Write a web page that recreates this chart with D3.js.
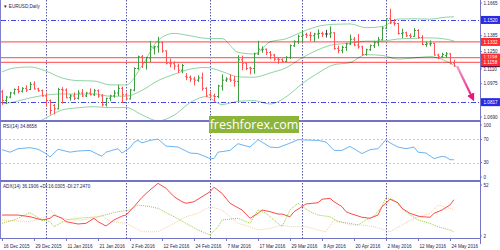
<!DOCTYPE html>
<html>
<head>
<meta charset="utf-8">
<script src="https://cdn.jsdelivr.net/npm/d3@7"></script>
<style>
body { margin: 0; background: #fff; }
svg { display: block; font-family: "Liberation Sans", Arial, sans-serif; }
</style>
</head>
<body>
<div id="chart"></div>
<script>
const W = 500, H = 250;
const axisX = 480;

// daily OHLC, 16 Dec 2015 .. 25 May 2016 (bar index 0..113)
const openP = [1.0905,1.0830,1.0860,1.0895,1.0925,1.0910,1.0935,1.0925,1.0970,1.0930,1.0915,1.0870,1.0830,1.0790,1.0760,1.0925,1.0920,1.0855,1.0870,1.0850,
  1.0895,1.0870,1.0895,1.0880,1.0915,1.0870,1.0795,1.0850,1.0870,1.0895,1.0935,1.0880,1.0845,1.0920,1.1105,1.1205,1.1155,1.1195,1.1280,1.1290,
  1.1325,1.1255,1.1150,1.1145,1.1125,1.1090,1.1035,1.1030,1.1015,1.1005,1.1025,1.0935,1.0880,1.0870,1.0865,1.0955,1.1005,1.1015,1.1005,1.0995,
  1.1180,1.1150,1.1110,1.1105,1.1230,1.1265,1.1270,1.1240,1.1220,1.1185,1.1180,1.1165,1.1200,1.1300,1.1335,1.1380,1.1395,1.1390,1.1385,1.1400,
  1.1405,1.1400,1.1400,1.1410,1.1275,1.1260,1.1285,1.1315,1.1355,1.1305,1.1290,1.1225,1.1265,1.1300,1.1325,1.1350,1.1450,1.1530,1.1495,1.1490,
  1.1405,1.1410,1.1385,1.1380,1.1430,1.1370,1.1310,1.1315,1.1320,1.1220,1.1205,1.1215,1.1230,1.1150];
const highP = [1.0922,1.0870,1.0905,1.0935,1.0955,1.0945,1.0960,1.0990,1.0995,1.0940,1.0925,1.0900,1.0840,1.0800,1.0940,1.0945,1.0935,1.0885,1.0900,1.0920,
  1.0930,1.0905,1.0935,1.0930,1.0925,1.0885,1.0855,1.0880,1.0920,1.0965,1.0950,1.0900,1.0930,1.1115,1.1215,1.1220,1.1205,1.1340,1.1300,1.1376,
  1.1335,1.1260,1.1190,1.1165,1.1145,1.1145,1.1065,1.1045,1.1035,1.1045,1.1070,1.0945,1.0905,1.0890,1.0965,1.1055,1.1030,1.1055,1.1040,1.1218,
  1.1215,1.1160,1.1120,1.1240,1.1342,1.1295,1.1275,1.1255,1.1230,1.1200,1.1190,1.1210,1.1310,1.1345,1.1395,1.1435,1.1410,1.1420,1.1410,1.1440,
  1.1420,1.1435,1.1465,1.1415,1.1300,1.1300,1.1325,1.1395,1.1375,1.1400,1.1300,1.1275,1.1310,1.1340,1.1375,1.1465,1.1535,1.1616,1.1530,1.1495,
  1.1445,1.1420,1.1405,1.1450,1.1440,1.1390,1.1335,1.1345,1.1325,1.1230,1.1240,1.1245,1.1235,1.1180];
const lowP = [1.0795,1.0800,1.0850,1.0880,1.0890,1.0900,1.0905,1.0920,1.0925,1.0905,1.0865,1.0780,1.0711,1.0712,1.0755,1.0805,1.0850,1.0830,1.0835,1.0840,
  1.0860,1.0860,1.0875,1.0870,1.0855,1.0780,1.0780,1.0825,1.0855,1.0870,1.0810,1.0835,1.0840,1.0910,1.1095,1.1110,1.1095,1.1160,1.1225,1.1240,
  1.1240,1.1140,1.1115,1.1095,1.1065,1.1065,1.1005,1.0990,1.0960,1.0990,1.0915,1.0860,1.0850,1.0822,1.0850,1.0915,1.0990,1.0990,1.0950,1.0822,
  1.1090,1.1090,1.1055,1.1060,1.1220,1.1240,1.1220,1.1185,1.1170,1.1145,1.1160,1.1160,1.1185,1.1290,1.1315,1.1330,1.1365,1.1340,1.1335,1.1360,
  1.1375,1.1370,1.1365,1.1265,1.1235,1.1235,1.1255,1.1305,1.1295,1.1275,1.1215,1.1215,1.1255,1.1280,1.1295,1.1345,1.1440,1.1485,1.1470,1.1395,
  1.1365,1.1375,1.1365,1.1375,1.1360,1.1305,1.1290,1.1295,1.1215,1.1185,1.1195,1.1200,1.1140,1.1120];
const closeP = [1.0830,1.0860,1.0895,1.0925,1.0910,1.0935,1.0920,1.0970,1.0930,1.0915,1.0870,1.0830,1.0745,1.0760,1.0925,1.0920,1.0855,1.0870,1.0850,1.0895,
  1.0870,1.0895,1.0880,1.0915,1.0870,1.0795,1.0850,1.0870,1.0895,1.0935,1.0880,1.0845,1.0920,1.1105,1.1205,1.1155,1.1195,1.1290,1.1290,1.1325,
  1.1255,1.1150,1.1145,1.1125,1.1090,1.1130,1.1030,1.1015,1.1005,1.1025,1.0935,1.0870,1.0870,1.0865,1.0955,1.1005,1.1015,1.1005,1.0995,1.1180,
  1.1150,1.1105,1.1105,1.1230,1.1270,1.1270,1.1240,1.1220,1.1185,1.1180,1.1165,1.1200,1.1300,1.1335,1.1380,1.1390,1.1390,1.1385,1.1400,1.1405,
  1.1400,1.1400,1.1410,1.1275,1.1260,1.1285,1.1315,1.1355,1.1305,1.1290,1.1225,1.1265,1.1300,1.1325,1.1350,1.1450,1.1530,1.1495,1.1490,1.1405,
  1.1410,1.1385,1.1380,1.1430,1.1370,1.1310,1.1315,1.1320,1.1220,1.1205,1.1225,1.1230,1.1150,1.1125];

// Bollinger bands, read at selected bars
const bbIdx   = [0,3,7,11,15,19,23,27,31,35,39,43,47,51,55,59,63,67,71,75,79,83,87,91,95,99,103,107,111,113];
const bbUpper = [1.1075,1.1109,1.1118,1.1083,1.1024,1.1001,1.0998,1.0965,1.0964,1.1128,1.1345,1.1405,1.1385,1.1363,1.1361,1.1243,1.1229,1.1332,1.1359,1.1418,1.1465,1.1483,1.1486,1.1454,1.1463,1.1528,1.1530,1.1527,1.1544,1.1547];
const bbMid   = [1.0801,1.0819,1.0853,1.0878,1.0887,1.0885,1.0888,1.0868,1.0868,1.0918,1.1001,1.1055,1.1099,1.1114,1.1079,1.1034,1.1030,1.1066,1.1111,1.1196,1.1265,1.1310,1.1321,1.1339,1.1340,1.1357,1.1363,1.1367,1.1356,1.1339];
const bbLower = [1.0528,1.0554,1.0613,1.0682,1.0750,1.0769,1.0778,1.0770,1.0772,1.0708,1.0657,1.0705,1.0812,1.0864,1.0797,1.0824,1.0830,1.0801,1.0862,1.0974,1.1066,1.1137,1.1155,1.1223,1.1217,1.1185,1.1195,1.1207,1.1168,1.1131];

// RSI(14)
const rsiIdx = [0,2,4,7,9,11,12,14,17,19,22,24,25,26,29,30,32,33,34,35,37,39,41,44,47,49,52,53,54,57,59,62,64,67,69,72,74,79,81,83,85,87,90,92,94,96,97,99,101,103,104,106,108,110,111,112,113];
const rsiVal = [52.3,48,54,55.7,53,45.5,39.6,53,48,50,51,44,41,48,54,46.5,55.7,65,68.3,64,68.3,70.5,58.5,56.8,46.5,45.5,36.9,36.9,48,51,62.6,56.8,69.5,56.8,55.7,63.6,69.5,68.3,65.5,51,51,58,45.5,52.3,54,69.5,64,56.8,54,56.8,48,46.5,36.9,40.8,39.6,35,34.9];
const rsiLevels = [70, 30];
const rsiTicks = [100, 70, 30, 0];

// ADX(14), +DI, -DI
const adxIdx = [0,4,7,10,12,13,15,16,19,21,23,24,26,28,30,31,33,35,37,39,41,43,45,46,48,50,52,53,55,57,60,62,64,65,67,69,70,72,73,75,76,79,80,82,83,85,86,87,90,92,94,95,97,99,100,102,104,105,107,108,110,112,113];
const adxVal = [22.5,22.5,21,18.1,19.6,22.5,19.6,16.6,14.5,15.1,19.6,16.6,12.7,18.1,21.6,22.5,30,38.3,44.9,50.8,46.4,38.9,34.4,33,34.4,38.9,43.3,47.3,41.9,33,27,19.6,24,27,25.5,23.4,23.4,21,25.5,30,32.4,33.5,36.6,37.4,34.4,30,25.5,24,20.5,19.6,22.5,30,36.6,33.5,28.5,24,21.6,21,20.5,24,27,31.5,36.2];
const pdiIdx = [0,3,7,10,12,13,16,19,24,29,32,34,37,39,43,46,49,52,54,55,59,62,64,66,68,70,72,74,77,79,82,84,87,89,91,93,95,96,98,100,102,104,107,109,112,113];
const pdiVal = [15.1,18.1,24.6,18.1,16.6,12.1,18.1,19.6,21,25.5,27,31.5,30,28.5,21,15.1,9.1,4.7,12.1,18.1,19.6,15.1,27,24,18.1,12.1,27,33,25.5,22.5,21,16.6,15.1,13.6,18.1,21.6,30,38.3,35.9,28.5,22.5,18.1,15.1,12.1,9.1,7.6];
const mdiIdx = [0,7,11,12,14,17,20,23,25,27,31,35,39,43,46,49,52,55,57,59,62,64,67,70,72,76,79,81,83,87,90,93,97,100,103,107,109,112,113];
const mdiVal = [18.1,16.6,21,27,21,18.1,18.1,19.6,22,17,15.1,7.6,7.6,15.1,21,24,30,27,21,15.1,12.1,9.1,10.6,13.6,12.1,12.1,9.1,7.6,18.1,13.6,13.6,12.1,7.6,13.6,19.6,24,31.5,28.5,27.2];

// price axis, levels and tags
const priceTicks = [1.1665, 1.1385, 1.1250, 1.1110, 1.0975, 1.0690];
const blueLevels = [1.1520, 1.0817];
const redLevels = [1.1332, 1.1198, 1.1158];
const lastPrice = 1.1125;

// dates
const monthStartIdx = [11, 31, 52, 75, 96];
const dateIdx = [0,8,16,24,32,40,48,56,64,72,80,88,96,104,112];
const dateLabels = ["16 Dec 2015","29 Dec 2015","11 Jan 2016","21 Jan 2016","2 Feb 2016","12 Feb 2016","24 Feb 2016",
  "7 Mar 2016","17 Mar 2016","29 Mar 2016","8 Apr 2016","20 Apr 2016","2 May 2016","12 May 2016","24 May 2016"];

// scales
const x = d3.scaleLinear().domain([0, 113]).range([2, 454]);
const y = d3.scaleLinear().domain([1.0690, 1.1665]).range([117, 3]);
const yRsi = d3.scaleLinear().domain([0, 100]).range([180, 122]);
const yAdx = d3.scaleLinear().domain([2, 52]).range([238, 182]);

const svg = d3.select("#chart").append("svg")
  .attr("width", W).attr("height", H);

const defs = svg.append("defs");
[["clipMain", 0, 120], ["clipRsi", 122, 180], ["clipAdx", 182, 238]].forEach(([id, t, b]) => {
  defs.append("clipPath").attr("id", id)
    .append("rect").attr("x", 1).attr("y", t).attr("width", axisX - 1).attr("height", b - t);
});
const grad = defs.append("linearGradient").attr("id", "arrowGrad")
  .attr("gradientUnits", "userSpaceOnUse")
  .attr("x1", 457).attr("y1", 66).attr("x2", 473).attr("y2", 99);
grad.append("stop").attr("offset", "0%").attr("stop-color", "#f39ac6");
grad.append("stop").attr("offset", "100%").attr("stop-color", "#e8177f");
defs.append("marker").attr("id", "arrowHead")
  .attr("viewBox", "0 0 10 10").attr("refX", 4).attr("refY", 5)
  .attr("markerWidth", 3.6).attr("markerHeight", 3.6).attr("orient", "auto")
  .append("path").attr("d", "M0,0 L10,5 L0,10 z").attr("fill", "#e8177f");

const navy = "#1e1e55";
const fs = 4.6;

// month separators (all panels)
svg.append("g").selectAll("line").data(monthStartIdx).join("line")
  .attr("x1", d => Math.round(x(d)) + 0.5).attr("x2", d => Math.round(x(d)) + 0.5)
  .attr("y1", 0).attr("y2", 238)
  .attr("stroke", "#5a5aaa").attr("stroke-dasharray", "1.5,1.5");

// ---------- main panel ----------
const main = svg.append("g").attr("clip-path", "url(#clipMain)");

main.selectAll(".blue").data(blueLevels).join("line")
  .attr("x1", 1).attr("x2", axisX)
  .attr("y1", d => Math.round(y(d)) + 0.5).attr("y2", d => Math.round(y(d)) + 0.5)
  .attr("stroke", "#4848e8").attr("stroke-dasharray", "5,2,1,2");

main.selectAll(".red").data(redLevels).join("line")
  .attr("x1", 1).attr("x2", axisX)
  .attr("y1", d => y(d)).attr("y2", d => y(d))
  .attr("stroke", "#ff6a6a").attr("stroke-width", 1.2);

const bandLine = arr => d3.line()
  .x((d, k) => x(bbIdx[k])).y(d => y(d))
  .curve(d3.curveMonotoneX)(arr);
[bbUpper, bbMid, bbLower].forEach(arr => {
  main.append("path").attr("d", bandLine(arr))
    .attr("fill", "none").attr("stroke", "#8fd4a4").attr("stroke-width", 1)
    .style("mix-blend-mode", "multiply");
});

main.append("g").selectAll("path").data(d3.range(openP.length)).join("path")
  .attr("d", i => {
    const cx = Math.round(x(i)) + 0.5;
    return `M${cx},${y(highP[i])}V${y(lowP[i])}` +
      `M${cx - 1.5},${y(openP[i])}H${cx}` +
      `M${cx},${y(closeP[i])}H${cx + 1.5}`;
  })
  .attr("fill", "none")
  .attr("stroke", i => closeP[i] > openP[i] ? "#3e9e3e" : closeP[i] < openP[i] ? "#ff5252" : "#404040");

// pink forecast arrow
svg.append("line")
  .attr("x1", 457).attr("y1", 66).attr("x2", 472).attr("y2", 97)
  .attr("stroke", "url(#arrowGrad)").attr("stroke-width", 2.2)
  .attr("marker-end", "url(#arrowHead)");

svg.append("text").attr("x", 3).attr("y", 7.5)
  .attr("font-size", fs).attr("fill", navy).text("\u25BC EURUSD,Daily");

// ---------- RSI panel ----------
const rsiG = svg.append("g").attr("clip-path", "url(#clipRsi)");
rsiG.selectAll("line").data(rsiLevels).join("line")
  .attr("x1", 1).attr("x2", axisX)
  .attr("y1", d => Math.round(yRsi(d)) + 0.5).attr("y2", d => Math.round(yRsi(d)) + 0.5)
  .attr("stroke", "#c8c8c8").attr("stroke-dasharray", "2,2");
rsiG.append("path")
  .attr("d", d3.line().x((d, k) => x(rsiIdx[k])).y(d => yRsi(d))(rsiVal))
  .attr("fill", "none").attr("stroke", "#6cb4f2").attr("stroke-width", 1);
svg.append("text").attr("x", 3).attr("y", 127.5)
  .attr("font-size", fs).attr("fill", navy).text("RSI(14) 34.8658");

// ---------- ADX panel ----------
const adxG = svg.append("g").attr("clip-path", "url(#clipAdx)");
const idxLine = idx => d3.line().x((d, k) => x(idx[k])).y(d => yAdx(d));
adxG.append("path").attr("d", idxLine(mdiIdx)(mdiVal))
  .attr("fill", "none").attr("stroke", "#f2cfa6").attr("stroke-dasharray", "1,1");
adxG.append("path").attr("d", idxLine(pdiIdx)(pdiVal))
  .attr("fill", "none").attr("stroke", "#9acd32").attr("stroke-dasharray", "1,1");
adxG.append("path").attr("d", idxLine(adxIdx)(adxVal))
  .attr("fill", "none").attr("stroke", "#ff4a4a").attr("stroke-width", 1);
svg.append("text").attr("x", 3).attr("y", 187.5)
  .attr("font-size", fs).attr("fill", navy)
  .text("ADX(14) 36.1906 +DI:16.0305 -DI:27.2470");

// ---------- frame ----------
svg.append("line").attr("x1", 0.5).attr("x2", 0.5).attr("y1", 0).attr("y2", 238)
  .attr("stroke", "#8080cc");
[121, 181].forEach(sy => {
  svg.append("line").attr("x1", 0).attr("x2", axisX + 1).attr("y1", sy).attr("y2", sy)
    .attr("stroke", "#7474c6").attr("stroke-width", 2);
});
svg.append("line").attr("x1", axisX + 0.5).attr("x2", axisX + 0.5).attr("y1", 0).attr("y2", 244)
  .attr("stroke", "#7474c6");
svg.append("line").attr("x1", 0).attr("x2", axisX + 1).attr("y1", 238.5).attr("y2", 238.5)
  .attr("stroke", "#7474c6");

// last-price strip sits under the red tags, only its lower edge shows
svg.append("rect").attr("x", axisX + 1).attr("y", y(lastPrice) - 4).attr("width", 20).attr("height", 5)
  .attr("fill", "#0c0c62");

// right axis labels
const rightLabel = (yy, txt) => {
  svg.append("line").attr("x1", axisX).attr("x2", axisX + 2).attr("y1", yy).attr("y2", yy)
    .attr("stroke", "#7474c6");
  svg.append("text").attr("x", axisX + 3.5).attr("y", yy).attr("dy", "0.35em")
    .attr("font-size", fs).attr("fill", navy).text(txt);
};
priceTicks.forEach(p => rightLabel(p === 1.1110 ? y(p) + 1 : y(p), p.toFixed(4)));
rsiTicks.forEach(v => rightLabel(Math.min(177, Math.max(125, yRsi(v))), String(v)));
yAdx.domain().slice().reverse().forEach(v => rightLabel(Math.min(236, Math.max(185, yAdx(v))), String(v)));

// price tags
const tag = (p, fill) => {
  const yy = y(p);
  svg.append("rect").attr("x", axisX + 1).attr("y", yy - 4).attr("width", 20).attr("height", 8)
    .attr("fill", fill);
  svg.append("text").attr("x", axisX + 3.5).attr("y", yy).attr("dy", "0.35em")
    .attr("font-size", fs).attr("fill", "#fff").text(p.toFixed(4));
};
blueLevels.forEach(p => tag(p, "#2a2ae2"));
redLevels.forEach(p => tag(p, "#ff2c2c"));

// date axis
const dg = svg.append("g");
dg.selectAll("line").data(dateIdx).join("line")
  .attr("x1", d => Math.round(x(d)) + 0.5).attr("x2", d => Math.round(x(d)) + 0.5)
  .attr("y1", 238).attr("y2", 241).attr("stroke", "#7474c6");
dg.selectAll("text").data(dateIdx).join("text")
  .attr("x", d => x(d) + 1.5).attr("y", 246).attr("dy", "0.35em")
  .attr("font-size", fs).attr("fill", navy)
  .text((d, k) => dateLabels[k]);

// watermark
svg.append("rect").attr("x", 209).attr("y", 116).attr("width", 90).attr("height", 17)
  .attr("fill", "#8db43a");
svg.append("text").attr("x", 254).attr("y", 129).attr("text-anchor", "middle")
  .attr("font-family", "'Open Sans', sans-serif").attr("font-size", 12.5).attr("fill", "#fff")
  .text("freshforex.com");
</script>
</body>
</html>
